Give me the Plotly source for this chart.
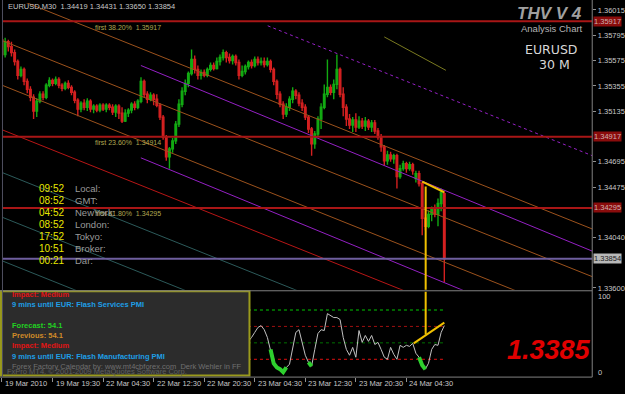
import plotly.graph_objects as go

# ---------------- DATA ----------------
bars = list(range(141))
opens = [
1.35756, 1.35627, 1.35739, 1.35696, 1.35644, 1.35567, 1.35446, 1.35498, 1.35394, 1.35325,
1.35256, 1.35136, 1.35222, 1.35282, 1.35256, 1.35360, 1.35403, 1.35377, 1.35411, 1.35360,
1.35334, 1.35377, 1.35342, 1.35299, 1.35230, 1.35153, 1.35205, 1.35170, 1.35222, 1.35153,
1.35179, 1.35144, 1.35187, 1.35153, 1.35187, 1.35170, 1.35127, 1.35179, 1.35118, 1.35049,
1.35118, 1.35144, 1.35196, 1.35170, 1.35222, 1.35394, 1.35282, 1.35239, 1.35273, 1.35239,
1.35187, 1.35084, 1.34911, 1.34739, 1.34808, 1.34877, 1.35023, 1.35196, 1.35308, 1.35377,
1.35463, 1.35584, 1.35498, 1.35446, 1.35472, 1.35446, 1.35498, 1.35532, 1.35506, 1.35567,
1.35601, 1.35644, 1.35601, 1.35575, 1.35610, 1.35558, 1.35446, 1.35480, 1.35523, 1.35558,
1.35532, 1.35584, 1.35558, 1.35567, 1.35541, 1.35567, 1.35498, 1.35394, 1.35282, 1.35196,
1.35110, 1.35170, 1.35239, 1.35308, 1.35273, 1.35205, 1.35170, 1.35084, 1.34980, 1.34851,
1.34937, 1.35067, 1.35170, 1.35282, 1.35342, 1.35299, 1.35368, 1.35498, 1.35282, 1.35170,
1.35067, 1.35015, 1.35058, 1.34998, 1.35049, 1.35006, 1.35049, 1.34998, 1.35032, 1.34963,
1.34911, 1.34825, 1.34705, 1.34756, 1.34722, 1.34748, 1.34567, 1.34636, 1.34679, 1.34636,
1.34670, 1.34549, 1.34592, 1.34506, 1.34205, 1.34136, 1.34239, 1.34282, 1.34239, 1.34334,
1.34419]
highs = [
1.35791, 1.35773, 1.35756, 1.35739, 1.35670, 1.35584, 1.35523, 1.35515, 1.35420, 1.35351,
1.35282, 1.35248, 1.35308, 1.35308, 1.35377, 1.35429, 1.35420, 1.35437, 1.35429, 1.35377,
1.35394, 1.35403, 1.35360, 1.35317, 1.35248, 1.35222, 1.35239, 1.35248, 1.35239, 1.35196,
1.35196, 1.35205, 1.35205, 1.35205, 1.35205, 1.35196, 1.35196, 1.35196, 1.35170, 1.35153,
1.35161, 1.35213, 1.35222, 1.35239, 1.35429, 1.35411, 1.35308, 1.35299, 1.35291, 1.35282,
1.35205, 1.35101, 1.34929, 1.34825, 1.34903, 1.35049, 1.35239, 1.35342, 1.35411, 1.35480,
1.35670, 1.35618, 1.35532, 1.35498, 1.35498, 1.35515, 1.35558, 1.35558, 1.35601, 1.35627,
1.35670, 1.35661, 1.35636, 1.35627, 1.35627, 1.35584, 1.35532, 1.35541, 1.35575, 1.35584,
1.35610, 1.35610, 1.35601, 1.35601, 1.35601, 1.35584, 1.35515, 1.35411, 1.35308, 1.35222,
1.35205, 1.35265, 1.35342, 1.35325, 1.35299, 1.35239, 1.35196, 1.35101, 1.34998, 1.34963,
1.35092, 1.35205, 1.35368, 1.35584, 1.35368, 1.35411, 1.35627, 1.35515, 1.35342, 1.35196,
1.35110, 1.35084, 1.35118, 1.35092, 1.35075, 1.35084, 1.35067, 1.35058, 1.35058, 1.34989,
1.34937, 1.34842, 1.34791, 1.34782, 1.34765, 1.34765, 1.34670, 1.34705, 1.34696, 1.34696,
1.34687, 1.34618, 1.34618, 1.34523, 1.34274, 1.34274, 1.34308, 1.34325, 1.34377, 1.34463,
1.34431]
lows = [
1.35584, 1.35601, 1.35653, 1.35610, 1.35532, 1.35411, 1.35429, 1.35360, 1.35291, 1.35222,
1.35067, 1.35084, 1.35205, 1.35230, 1.35239, 1.35342, 1.35351, 1.35360, 1.35334, 1.35308,
1.35317, 1.35325, 1.35273, 1.35205, 1.35092, 1.35127, 1.35144, 1.35136, 1.35127, 1.35118,
1.35127, 1.35127, 1.35136, 1.35127, 1.35144, 1.35101, 1.35084, 1.35067, 1.35032, 1.35041,
1.35084, 1.35118, 1.35144, 1.35153, 1.35205, 1.35256, 1.35205, 1.35222, 1.35187, 1.35170,
1.35058, 1.34886, 1.34705, 1.34636, 1.34774, 1.34851, 1.34998, 1.35170, 1.35273, 1.35342,
1.35446, 1.35463, 1.35411, 1.35411, 1.35429, 1.35429, 1.35480, 1.35489, 1.35498, 1.35532,
1.35575, 1.35558, 1.35549, 1.35541, 1.35532, 1.35411, 1.35429, 1.35454, 1.35498, 1.35506,
1.35515, 1.35532, 1.35532, 1.35515, 1.35523, 1.35472, 1.35360, 1.35239, 1.35170, 1.35067,
1.35084, 1.35136, 1.35205, 1.35239, 1.35179, 1.35136, 1.35058, 1.34946, 1.34748, 1.34808,
1.34911, 1.34980, 1.35153, 1.35256, 1.35273, 1.35239, 1.35325, 1.35256, 1.35092, 1.35006,
1.34980, 1.34955, 1.34955, 1.34980, 1.34980, 1.34963, 1.34972, 1.34955, 1.34937, 1.34886,
1.34782, 1.34661, 1.34670, 1.34696, 1.34679, 1.34463, 1.34549, 1.34618, 1.34601, 1.34618,
1.34584, 1.34515, 1.34480, 1.34058, 1.34101, 1.34118, 1.34179, 1.34213, 1.34136, 1.34265,
1.33650]
closes = [
1.35627, 1.35739, 1.35696, 1.35644, 1.35567, 1.35446, 1.35498, 1.35394, 1.35325, 1.35256,
1.35136, 1.35222, 1.35282, 1.35256, 1.35360, 1.35403, 1.35377, 1.35411, 1.35360, 1.35334,
1.35377, 1.35342, 1.35299, 1.35230, 1.35153, 1.35205, 1.35170, 1.35222, 1.35153, 1.35179,
1.35144, 1.35187, 1.35153, 1.35187, 1.35170, 1.35127, 1.35179, 1.35118, 1.35049, 1.35118,
1.35144, 1.35196, 1.35170, 1.35222, 1.35394, 1.35282, 1.35239, 1.35273, 1.35239, 1.35187,
1.35084, 1.34911, 1.34739, 1.34808, 1.34877, 1.35023, 1.35196, 1.35308, 1.35377, 1.35463,
1.35584, 1.35498, 1.35446, 1.35472, 1.35446, 1.35498, 1.35532, 1.35506, 1.35567, 1.35601,
1.35644, 1.35601, 1.35575, 1.35610, 1.35558, 1.35446, 1.35480, 1.35523, 1.35558, 1.35532,
1.35584, 1.35558, 1.35567, 1.35541, 1.35567, 1.35498, 1.35394, 1.35282, 1.35196, 1.35110,
1.35170, 1.35239, 1.35308, 1.35273, 1.35205, 1.35170, 1.35084, 1.34980, 1.34851, 1.34937,
1.35067, 1.35170, 1.35282, 1.35342, 1.35299, 1.35368, 1.35498, 1.35282, 1.35170, 1.35067,
1.35015, 1.35058, 1.34998, 1.35049, 1.35006, 1.35049, 1.34998, 1.35032, 1.34963, 1.34911,
1.34825, 1.34705, 1.34756, 1.34722, 1.34748, 1.34567, 1.34636, 1.34679, 1.34636, 1.34670,
1.34618, 1.34592, 1.34506, 1.34205, 1.34136, 1.34239, 1.34282, 1.34239, 1.34334, 1.34429,
1.33854]

# oscillator (visible part, bars 78..140)
osc_bars = list(range(78, 141))
osc_vals = [42, 46.6, 52.7, 58.7, 61, 56, 46.6, 32, 15, 10, 8, 4.3, 10, 14, 34.5, 52.7,
            56, 40.6, 24.9, 16.4, 11.6, 32, 51.4, 56, 55, 75.6, 73, 70.8, 70.8, 68.4,
            46.6, 32, 24.9, 34.5, 22.5, 55, 40.6, 49, 41.8, 49, 38, 40.6, 32, 22.5, 20,
            34.5, 26, 20, 37, 34.5, 37, 35.7, 39.4, 27.3, 22.5, 12.8, 8, 15.2, 32, 38,
            37, 52.7, 61]
osc_green_bars = [[85, 86, 87, 88, 89, 90], [97, 98], [132, 133, 134]]
osc_levels = [80, 60, 40, 20]

# trend channel lines: (bar0, price0, bar1, price1)
channel_lines = [
    (0, 1.36163, 187, 1.34110),
    (0, 1.35749, 187, 1.33696),
    (0, 1.35361, 187, 1.33308),
    (0, 1.34974, 187, 1.32920),
    (0, 1.34603, 187, 1.32550),
    (0, 1.34215, 187, 1.32162),
    (0, 1.33836, 187, 1.31782),
    (43.96, 1.35532, 186.8, 1.33920),
    (43.96, 1.34730, 186.8, 1.33118),
    (84.1, 1.35877, 186.8, 1.34749),
    (121.0, 1.35780, 140.5, 1.35490),
]
channel_styles = [
    ("#9c521c", "solid"), ("#9c521c", "solid"), ("#9c521c", "solid"),
    ("#b81616", "solid"), ("#2c5a5a", "solid"), ("#2c5a5a", "solid"), ("#2c5a5a", "solid"),
    ("#9420c4", "solid"), ("#9420c4", "solid"), ("#9420c4", "dot"), ("#7a7a20", "solid"),
]

fib_prices = [1.35917, 1.34914, 1.34295]
fib_labels = ["first 38.20%", "first 23.60%", "first 61.80%"]
axis_box_prices = [1.35917, 1.34917, 1.34295]
bid_price = 1.33854

yellow_top = ([133, 140], [1.34523, 1.34431])
yellow_vert_bar = 134.1
yellow_osc = ([130.3, 140], [39.4, 64.7])

price_ticks = [1.36015, 1.35795, 1.35575, 1.35355, 1.35135, 1.34695, 1.34475, 1.34040, 1.33600]
time_tick_bars = [0, 16, 32, 48, 64, 80, 96, 112, 128]
time_tick_labels = ["19 Mar 2010", "19 Mar 19:30", "22 Mar 04:30", "22 Mar 12:30", "22 Mar 20:30",
                    "23 Mar 04:30", "23 Mar 12:30", "23 Mar 20:30", "24 Mar 04:30"]

clock_times = ["09:52", "08:52", "04:52", "08:52", "17:52", "10:51", "00:21"]
clock_names = ["Local:", "GMT:", "NewYork:", "London:", "Tokyo:", "Broker:", "Dar:"]

news_lines = [
    ("Impact: Medium", "#e01414"),
    ("9 mins until EUR: Flash Services PMI", "#1e9ee6"),
    ("", "#ffffff"),
    ("Forecast: 54.1", "#22d022"),
    ("Previous: 54.1", "#d08a28"),
    ("Impact: Medium", "#e01414"),
    ("9 mins until EUR: Flash Manufacturing PMI", "#1e9ee6"),
]

# ---------------- LAYOUT HELPERS ----------------
W, H = 625, 394
def px(x): return x / W
def py(y): return 1 - y / H

FONT = "Liberation Sans, Arial, sans-serif"
GREEN = "#12aa12"
RED = "#d42020"
GREY = "#c8c8c8"

fig = go.Figure()

fig.add_trace(go.Candlestick(
    x=bars, open=opens, high=highs, low=lows, close=closes,
    increasing=dict(line=dict(color=GREEN, width=1.4), fillcolor=GREEN),
    decreasing=dict(line=dict(color=RED, width=1.4), fillcolor=RED),
    whiskerwidth=0, xaxis="x", yaxis="y", hoverinfo="skip"))

for (b0, p0, b1, p1), (col, dash) in zip(channel_lines, channel_styles):
    fig.add_trace(go.Scatter(x=[b0, b1], y=[p0, p1], mode="lines",
                             line=dict(color=col, width=1, dash=dash),
                             xaxis="x", yaxis="y", hoverinfo="skip"))

for p in fib_prices:
    fig.add_trace(go.Scatter(x=[0, 187], y=[p, p], mode="lines",
                             line=dict(color="#a81616", width=2),
                             xaxis="x", yaxis="y", hoverinfo="skip"))

fig.add_trace(go.Scatter(x=[0, 187], y=[bid_price, bid_price], mode="lines",
                         line=dict(color="#6e5e9e", width=2),
                         xaxis="x", yaxis="y", hoverinfo="skip"))

fig.add_trace(go.Scatter(x=yellow_top[0], y=yellow_top[1], mode="lines",
                         line=dict(color="#f0c000", width=2), xaxis="x", yaxis="y"))
fig.add_trace(go.Scatter(x=[yellow_vert_bar, yellow_vert_bar], y=[1.34480, 1.3300], mode="lines",
                         line=dict(color="#f0c000", width=2), xaxis="x", yaxis="y"))

# oscillator
for lv, col in zip(osc_levels, ["#00c800", "#a01010", "#007000", "#e01010"]):
    fig.add_trace(go.Scatter(x=[0, 140], y=[lv, lv], mode="lines",
                             line=dict(color=col, width=1, dash="3px,3px"),
                             xaxis="x2", yaxis="y2", hoverinfo="skip"))
fig.add_trace(go.Scatter(x=osc_bars, y=osc_vals, mode="lines",
                         line=dict(color="#c0c0c0", width=1), xaxis="x2", yaxis="y2"))
for seg in osc_green_bars:
    fig.add_trace(go.Scatter(x=seg, y=[osc_vals[b - 78] for b in seg], mode="lines",
                             line=dict(color="#2ed02e", width=4), xaxis="x2", yaxis="y2"))
fig.add_trace(go.Scatter(x=[yellow_vert_bar, yellow_vert_bar], y=[120, 50.2], mode="lines",
                         line=dict(color="#f0c000", width=2), xaxis="x2", yaxis="y2"))
fig.add_trace(go.Scatter(x=yellow_osc[0], y=yellow_osc[1], mode="lines",
                         line=dict(color="#f0c000", width=2), xaxis="x2", yaxis="y2"))

xr = [0, (597 - 2) / 3.185]
ann = []

# fib labels
for p, lab in zip(fib_prices, fib_labels):
    ann.append(dict(x=28.9, y=p, xref="x", yref="y", xanchor="left", yanchor="middle",
                    yshift=-6, text=f"{lab}&nbsp;&nbsp;{p:.5f}", showarrow=False,
                    font=dict(family=FONT, size=7, color="#b0a850")))

# axis boxes
for p in axis_box_prices:
    ann.append(dict(x=px(598), y=p, xref="paper", yref="y", xanchor="left", yanchor="middle",
                    text=f"{p:.5f}", showarrow=False, bgcolor="#8a0c0c", borderpad=0,
                    font=dict(family=FONT, size=7.5, color="#d0b0b0")))
ann.append(dict(x=px(598), y=bid_price, xref="paper", yref="y", xanchor="left", yanchor="middle",
                text=f"{bid_price:.5f}", showarrow=False, bgcolor="#b8b8b8", borderpad=0,
                font=dict(family=FONT, size=7.5, color="#202020")))

# time labels
for b, t in zip(time_tick_bars, time_tick_labels):
    ann.append(dict(x=b, y=py(386), xref="x2", yref="paper", xanchor="left", yanchor="middle",
                    xshift=1, text=t, showarrow=False,
                    font=dict(family=FONT, size=7.5, color=GREY)))

# oscillator scale
ann.append(dict(x=px(601), y=py(299), xref="paper", yref="paper", xanchor="left",
                yanchor="middle", text="100", showarrow=False,
                font=dict(family=FONT, size=7.5, color=GREY)))
ann.append(dict(x=px(601), y=py(375), xref="paper", yref="paper", xanchor="left",
                yanchor="middle", text="0", showarrow=False,
                font=dict(family=FONT, size=7.5, color=GREY)))

# header
ann.append(dict(x=px(6), y=py(7), xref="paper", yref="paper", xanchor="left", yanchor="middle",
                text="EURUSD,M30&nbsp;&nbsp;1.34419 1.34431 1.33650 1.33854", showarrow=False,
                font=dict(family=FONT, size=7.5, color=GREY)))

# title block
ann.append(dict(x=px(554), y=py(14), xref="paper", yref="paper", xanchor="center", yanchor="middle",
                text="<b><i>THV V 4</i></b>", showarrow=False,
                font=dict(family=FONT, size=17, color="#a0a0a0")))
ann.append(dict(x=px(556), y=py(29), xref="paper", yref="paper", xanchor="center", yanchor="middle",
                text="Analysis Chart", showarrow=False,
                font=dict(family=FONT, size=9.5, color="#b4b4b4")))
ann.append(dict(x=px(555), y=py(50), xref="paper", yref="paper", xanchor="center", yanchor="middle",
                text="EURUSD", showarrow=False,
                font=dict(family="DejaVu Sans", size=12.5, color="#d8d8d8")))
ann.append(dict(x=px(559), y=py(64.5), xref="paper", yref="paper", xanchor="center", yanchor="middle",
                text="30 M", showarrow=False,
                font=dict(family="DejaVu Sans", size=12.5, color="#d8d8d8")))

# big price
ann.append(dict(x=px(553), y=py(353), xref="paper", yref="paper", xanchor="center", yanchor="middle",
                text="<b><i>1.3385</i></b>", showarrow=False,
                font=dict(family=FONT, size=27, color="#e00000")))

# clock
for i, (t, n) in enumerate(zip(clock_times, clock_names)):
    yy = 190 + i * 12
    ann.append(dict(x=px(37), y=py(yy), xref="paper", yref="paper", xanchor="left",
                    yanchor="middle", text=t, showarrow=False,
                    font=dict(family=FONT, size=10, color="#e8e800")))
    ann.append(dict(x=px(74), y=py(yy), xref="paper", yref="paper", xanchor="left",
                    yanchor="middle", text=n, showarrow=False,
                    font=dict(family=FONT, size=9.5, color="#9a9a9a")))

# news panel text
for i, (t, c) in enumerate(news_lines):
    if not t:
        continue
    ann.append(dict(x=px(10), y=py(297 + i * 10.3), xref="paper", yref="paper", xanchor="left",
                    yanchor="middle", text=f"<b>{t}</b>", showarrow=False,
                    font=dict(family=FONT, size=7.5, color=c)))
ann.append(dict(x=px(10), y=py(369), xref="paper", yref="paper", xanchor="left", yanchor="middle",
                text="Forex Factory Calendar by: www.mt4cbforex.com  Derk Wehler in FF", showarrow=False,
                font=dict(family=FONT, size=7.5, color="#707070")))
ann.append(dict(x=px(5), y=py(374), xref="paper", yref="paper", xanchor="left", yanchor="middle",
                text="FxPro MT4, © 2001-2009 MetaQuotes Software Corp.", showarrow=False,
                font=dict(family=FONT, size=7.5, color="#606060")))

shapes = [
    dict(type="rect", xref="paper", yref="paper", x0=px(1), x1=px(251.5), y0=py(378.5), y1=py(293.5),
         fillcolor="#2c2c2c", line=dict(color="#9a9a1c", width=2), layer="above"),
    dict(type="line", xref="paper", yref="paper", x0=px(0), x1=px(597), y0=py(293), y1=py(293),
         line=dict(color="#808080", width=1)),
    dict(type="line", xref="paper", yref="paper", x0=px(0), x1=px(597), y0=py(380), y1=py(380),
         line=dict(color="#808080", width=1)),
    dict(type="line", xref="paper", yref="paper", x0=px(597), x1=px(597), y0=py(0), y1=py(380),
         line=dict(color="#808080", width=1)),
    dict(type="line", xref="paper", yref="paper", x0=px(2.5), x1=px(2.5), y0=py(0), y1=py(380),
         line=dict(color="#505060", width=1)),
]

fig.update_layout(
    width=W, height=H, margin=dict(l=0, r=0, t=0, b=0),
    paper_bgcolor="#000000", plot_bgcolor="#000000", showlegend=False,
    hovermode=False,
    xaxis=dict(domain=[px(2), px(597)], range=xr, showgrid=False, zeroline=False,
               showticklabels=False, ticks="", anchor="y", rangeslider=dict(visible=False)),
    yaxis=dict(domain=[py(292), py(3)], range=[1.33584, 1.36075], side="right", anchor="x",
               showgrid=False, zeroline=False, tickvals=price_ticks,
               ticktext=[f"{v:.5f}" for v in price_ticks], ticks="outside", ticklen=3,
               tickcolor="#909090", tickfont=dict(family=FONT, size=7.5, color=GREY)),
    xaxis2=dict(domain=[px(2), px(597)], range=xr, matches="x", anchor="y2", showgrid=False,
                zeroline=False, showticklabels=False, ticks="outside", ticklen=4,
                tickcolor="#909090", tickvals=time_tick_bars),
    yaxis2=dict(domain=[py(380), py(294)], range=[-1.7, 102.2], side="right", anchor="x2",
                showgrid=False, zeroline=False, showticklabels=False, ticks=""),
    annotations=ann, shapes=shapes,
)

fig.write_html("out.html")
